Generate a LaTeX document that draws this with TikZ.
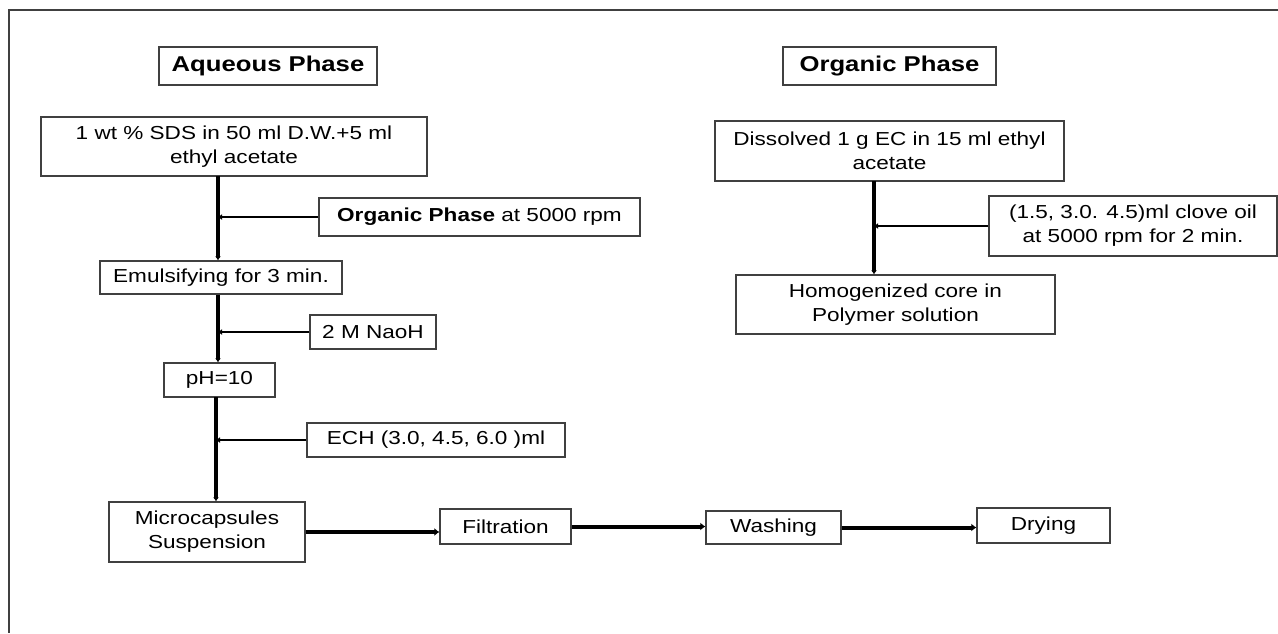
\documentclass[tikz,border=0pt]{standalone}
\usepackage{fontspec}
\setmainfont{Liberation Sans}[FakeStretch=1.2]
\usetikzlibrary{arrows.meta}

\begin{document}
\begin{tikzpicture}[x=1pt,y=-1pt,
  box/.style={draw=black!75,line width=1.3pt,align=center,inner sep=0pt,font=\fontsize{18.8}{24}\selectfont},
  head/.style={box,font=\fontsize{21.4}{24}\selectfont\bfseries}]
  \tikzstyle{trunk}=[line width=3.5pt, -{Latex[length=4pt,width=6pt]}]
  \tikzstyle{feed}=[line width=2.6pt, -{Latex[length=4pt,width=6pt]}]
  \tikzstyle{flow}=[line width=4pt, -{Latex[length=5pt,width=8pt]}]

\useasboundingbox (0,0) rectangle (1278,633);
\draw[black!75, line width=1.5pt] (1278,10) -- (9,10) -- (9,633);

% aqueous side
\node [head, minimum width=218, minimum height=38] (aq) at (268,66) {Aqueous Phase};
\node [box, minimum width=386, minimum height=59] (sds) at (234,146.5) {1 wt \% SDS in 50 ml D.W.+5 ml\\ethyl acetate};
\node [box, minimum width=321, minimum height=38] (orgadd) at (479.5,217) {\textbf{Organic Phase} at 5000 rpm};
\node [box, minimum width=242, minimum height=33] (emul) at (221,277.5) {Emulsifying for 3 min.};
\node [box, minimum width=126, minimum height=34] (naoh) at (373,332) {2 M NaoH};
\node [box, minimum width=111, minimum height=34] (ph) at (219.5,380) {pH=10};
\node [box, minimum width=258, minimum height=34] (ech) at (436,440) {ECH (3.0, 4.5, 6.0 )ml};
\node [box, minimum width=196, minimum height=60] (micro) at (207,532) {Microcapsules\\Suspension};
\node [box, minimum width=131, minimum height=35] (filt) at (505.5,526.5) {Filtration};
\node [box, minimum width=135, minimum height=33] (wash) at (773.5,527.5) {Washing};
\node [box, minimum width=133, minimum height=35] (dry) at (1043.5,525.5) {Drying};

% organic side
\node [head, minimum width=213, minimum height=38] (org) at (889.5,66) {Organic Phase};
\node [box, minimum width=349, minimum height=60] (diss) at (889.5,151) {Dissolved 1 g EC in 15 ml ethyl\\acetate};
\node [box, minimum width=288, minimum height=60] (clove) at (1133,226) {(1.5, 3.0. 4.5)ml clove oil\\at 5000 rpm for 2 min.};
\node [box, minimum width=319, minimum height=59] (homog) at (895.5,304.5) {Homogenized core in\\Polymer solution};

\coordinate (atr) at (218,176);
\coordinate (btr) at (216,397);
\coordinate (otr) at (874,181);

\draw[trunk] (atr) -- (atr |- emul.north);
\draw[feed] (orgadd.west) -- (orgadd.west -| atr);
\draw[trunk] (emul.south -| atr) -- (atr |- ph.north);
\draw[feed] (naoh.west) -- (naoh.west -| atr);
\draw[trunk] (btr) -- (btr |- micro.north);
\draw[feed] (ech.west) -- (ech.west -| btr);

\draw[trunk] (otr) -- (otr |- homog.north);
\draw[feed] (clove.west) -- (clove.west -| otr);

\draw[flow] (micro.east) -- (micro.east -| filt.west);
\draw[flow] (filt.east) -- (filt.east -| wash.west);
\draw[flow] (wash.east) -- (wash.east -| dry.west);

\end{tikzpicture}
\end{document}
